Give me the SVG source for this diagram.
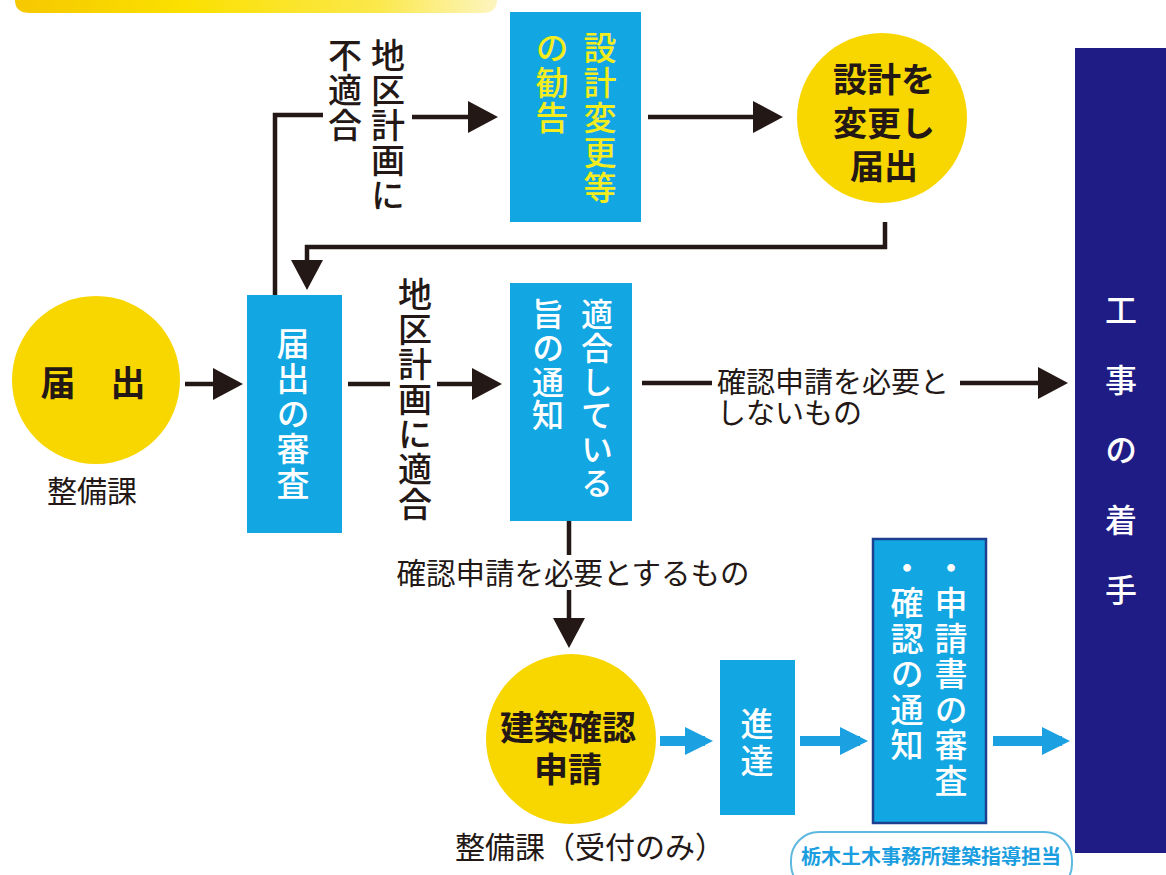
<svg xmlns="http://www.w3.org/2000/svg" width="1166" height="875" viewBox="0 0 1166 875">
<style>
text{font-family:"Noto Sans CJK JP","Noto Sans CJK SC",sans-serif}
.box{fill:#12a6e2}
.circ{fill:#f8d600}
.vt{writing-mode:vertical-rl}
.wh{fill:#ffffff;font-size:33px;font-weight:500}
.lbl{fill:#231815;font-size:34px;font-weight:500}
.ctext{fill:#231815;font-size:34px;font-weight:700}
.small{fill:#231815;font-size:29.5px;font-weight:400}
.conn{fill:none;stroke:#231815;stroke-width:4.5}
.bconn{fill:none;stroke:#1ba1e2;stroke-width:10}
</style>
<defs>
<linearGradient id="topg" x1="0" y1="0" x2="1" y2="0">
<stop offset="0" stop-color="#f6c800"/>
<stop offset="0.35" stop-color="#fbe000"/>
<stop offset="0.75" stop-color="#fbe84a"/>
<stop offset="1" stop-color="#fdf5c0"/>
</linearGradient>
<marker id="ah" markerUnits="userSpaceOnUse" markerWidth="30" markerHeight="32" refX="22" refY="16" orient="auto">
<path d="M0,0 L30,16 L0,32 Z" fill="#231815"/>
</marker>
<marker id="bh" markerUnits="userSpaceOnUse" markerWidth="28" markerHeight="28" refX="20" refY="14" orient="auto">
<path d="M0,0 L28,14 L0,28 Z" fill="#1ba1e2"/>
</marker>
</defs>
<rect width="1166" height="875" fill="#ffffff"/>

<g id="top-bar">
<path d="M15,-20 H497 V0 Q497,13 482,13 H30 Q15,13 15,0 Z" fill="url(#topg)"/>
</g>

<g id="connectors">
<path class="conn" d="M185,384 H235" marker-end="url(#ah)"/>
<path class="conn" d="M348,384 H390"/>
<path class="conn" d="M437,384 H494" marker-end="url(#ah)"/>
<path class="conn" d="M275,295 V115 H323"/>
<path class="conn" d="M412,117 H490" marker-end="url(#ah)"/>
<path class="conn" d="M648,117 H775" marker-end="url(#ah)"/>
<path class="conn" d="M885,222 V247 H307 V282" marker-end="url(#ah)"/>
<path class="conn" d="M642,383 H712"/>
<path class="conn" d="M960,383 H1060" marker-end="url(#ah)"/>
<path class="conn" d="M569,521 V555"/>
<path class="conn" d="M569,590 V640" marker-end="url(#ah)"/>
<path class="bconn" d="M660,741 H705" marker-end="url(#bh)"/>
<path class="bconn" d="M800,741 H860" marker-end="url(#bh)"/>
<path class="bconn" d="M993,741 H1062" marker-end="url(#bh)"/>
<text class="lbl vt" x="388" y="38" style="letter-spacing:1px">地区計画に</text>
<text class="lbl vt" x="345" y="38" style="letter-spacing:1px">不適合</text>
<text class="lbl vt" x="415" y="277" style="letter-spacing:1px">地区計画に適合</text>
<text class="small" x="717" y="393" style="font-size:29px">確認申請を必要と</text>
<text class="small" x="717" y="424" style="font-size:29px">しないもの</text>
<text class="small" x="573" y="584" text-anchor="middle">確認申請を必要とするもの</text>
</g>

<g id="node-todokede">
<circle class="circ" cx="96" cy="380" r="84"/>
<text class="ctext" x="93" y="396" text-anchor="middle" style="font-size:35px">届　出</text>
<text class="small" x="92" y="502" text-anchor="middle" style="font-size:30px">整備課</text>
</g>

<g id="node-shinsa">
<rect class="box" x="247" y="295" width="95" height="238"/>
<text class="wh vt" x="293" y="326.5" style="letter-spacing:2px">届出の審査</text>
</g>

<g id="node-kankoku">
<rect class="box" x="510" y="12" width="131" height="210"/>
<text class="vt" x="600" y="30.5" style="fill:#f3ec1e;font-size:33px;font-weight:500;letter-spacing:2px">設計変更等</text>
<text class="vt" x="552" y="30.5" style="fill:#f3ec1e;font-size:33px;font-weight:500;letter-spacing:2px">の勧告</text>
</g>

<g id="node-henko">
<circle class="circ" cx="882" cy="118" r="85"/>
<text class="ctext" x="884" y="92" text-anchor="middle">設計を</text>
<text class="ctext" x="884" y="136" text-anchor="middle">変更し</text>
<text class="ctext" x="884" y="179" text-anchor="middle">届出</text>
</g>

<g id="node-tsuchi">
<rect class="box" x="510" y="283" width="122" height="238"/>
<text class="wh vt" x="597" y="298" style="font-size:32px;letter-spacing:1.7px">適合している</text>
<text class="wh vt" x="548" y="298" style="font-size:32px;letter-spacing:1.7px">旨の通知</text>
</g>

<g id="node-chakushu">
<rect x="1075" y="48" width="91" height="805" fill="#1f1c86"/>
<text class="vt" x="1121" y="294" style="fill:#ffffff;font-size:32px;font-weight:500;letter-spacing:38px">工事の着手</text>
</g>

<g id="node-kakunin">
<circle class="circ" cx="571" cy="739" r="85"/>
<text class="ctext" x="568" y="740" text-anchor="middle">建築確認</text>
<text class="ctext" x="568" y="782" text-anchor="middle">申請</text>
<text class="small" x="455" y="858" style="font-size:30px">整備課（受付のみ）</text>
</g>

<g id="node-shintatsu">
<rect class="box" x="720" y="660" width="75" height="155"/>
<text class="wh vt" x="757" y="706.5" style="letter-spacing:4px">進達</text>
</g>

<g id="node-shinsa2">
<rect class="box" x="873" y="539" width="113" height="284" style="stroke:#1d3f8f;stroke-width:2.5"/>
<text class="wh vt" x="951" y="550.5" style="letter-spacing:2.5px">・申請書の審査</text>
<text class="wh vt" x="907" y="550.5" style="letter-spacing:2.5px">・確認の通知</text>
</g>

<g id="node-tanto">
<rect x="791" y="832" width="281" height="60" rx="28" fill="#ffffff" stroke="#5fb8e0" stroke-width="2"/>
<text x="931" y="864" text-anchor="middle" style="fill:#1a9ee0;font-size:20px;font-weight:700">栃木土木事務所建築指導担当</text>
</g>
</svg>
